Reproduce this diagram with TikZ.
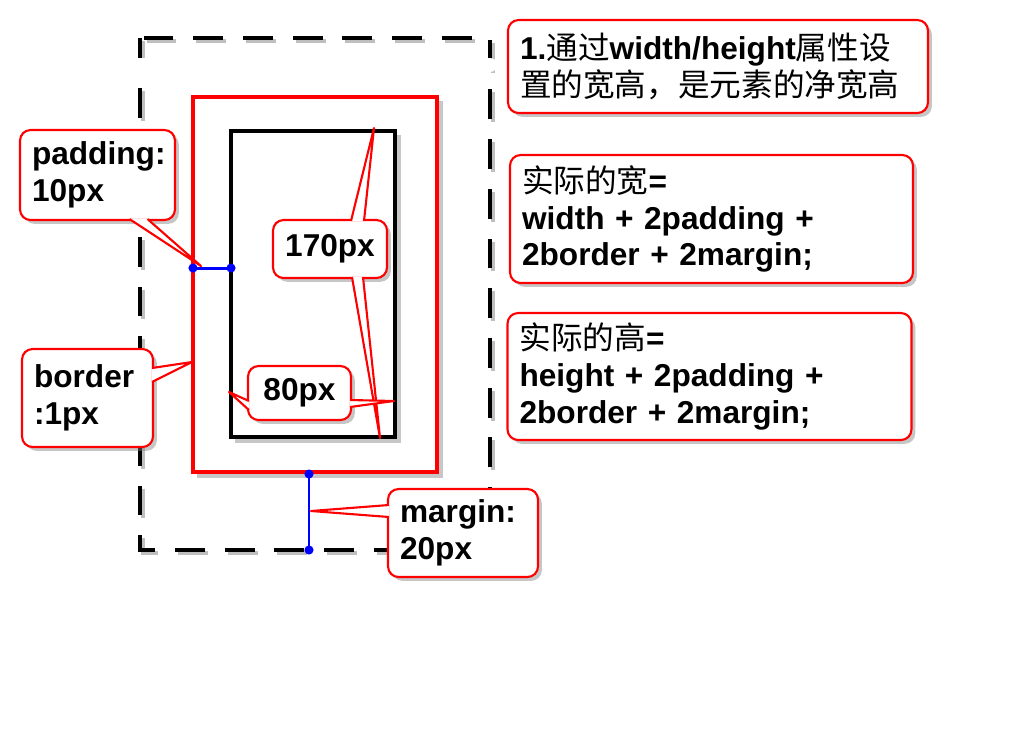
\documentclass[tikz,border=0pt]{standalone}
\usepackage{fontspec}
\setmainfont{Liberation Sans}
\newfontfamily\cjk{Noto Sans CJK SC}
\usetikzlibrary{calc,shadows}
\newcommand\zh[1]{{\cjk\mdseries #1}}

\begin{document}
\begin{tikzpicture}[x=0.02cm, y=-0.02cm,
	every node/.style={font=\fontsize{18}{21}\selectfont\bfseries},
	note/.style={draw=red, fill=white, line width=1.2pt, rounded corners=6pt, align=left, inner xsep=0.24cm, inner ysep=2pt,
		drop shadow={shadow xshift=2.2pt, shadow yshift=-2.2pt, opacity=0.45}},
	tail/.style={draw=red, fill=white, line width=1.2pt, line join=round},
	boxshadow/.style={draw=black!22, line width=2.2pt},
	dashbox/.style={line width=2.4pt, dash pattern=on 17pt off 11.3pt},
	blueline/.style={blue, line width=1.7pt}]
	\useasboundingbox (0,0) rectangle (1024,738);
	% margin box, border box, content box
	\draw[dashbox, black!25, shift={(3,3)}] (140,38) rectangle (490,550);
	\draw[dashbox] (140,38) rectangle (490,550);
	\draw[white, line width=8pt, line cap=round] (133,65) -- (490,65);
	\draw[boxshadow] (441,101) -- (441,476) -- (197,476);
	\draw[red, line width=2pt] (193,97) rectangle (437,472);
	\draw[boxshadow] (399,135) -- (399,441) -- (235,441);
	\draw[line width=2.3pt] (231,131) rectangle (395,437);
	% padding and margin marks
	\coordinate (padL) at (193,268);
	\coordinate (padR) at (231,268);
	\coordinate (marT) at (309,474);
	\coordinate (marB) at (309,550);
	\draw[blueline] (padL) -- (padR);
	\draw[blueline] (marT) -- (marB);
	\fill[blue] (padL) circle (2.6pt) (padR) circle (2.6pt) (marT) circle (2.6pt) (marB) circle (2.6pt);
	% tips of the callouts
	\coordinate (padtip) at (201,266);
	\coordinate (toptip) at (374,128);
	\coordinate (bottip) at (380,438);
	\coordinate (bordtip) at (192,362);
	\coordinate (lefttip) at (229,392);
	\coordinate (righttip) at (394,401);
	\coordinate (martip) at (311,511);
	% callouts
	\node[note, text width=2.62cm, minimum height=1.8cm] (pad) at (97.5,175) {padding:\\10px};
	\draw[tail] ($(pad.south)+(32,-2)$) -- (padtip) -- ($(pad.south)+(50,-2)$);
	\node[note, align=center, text width=1.8cm, minimum height=1.16cm] (s170) at (330,249) {170px};
	\draw[tail] ($(s170.north)+(21,2)$) -- (toptip) -- ($(s170.north)+(34,2)$);
	\draw[tail] ($(s170.south)+(22,-2)$) -- (bottip) -- ($(s170.south)+(33,-2)$);
	\node[note, text width=2.14cm, minimum height=1.96cm] (bord) at (87.5,398) {border\\:1px};
	\draw[tail] ($(bord.east)+(-2,-30)$) -- (bordtip) -- ($(bord.east)+(-2,-16)$);
	\node[note, align=center, text width=1.58cm, minimum height=1.08cm] (s80) at (299.5,393) {80px};
	\draw[tail] ($(s80.west)+(2,8)$) -- (lefttip) -- ($(s80.west)+(2,17)$);
	\draw[tail] ($(s80.east)+(-2,7)$) -- (righttip) -- ($(s80.east)+(-2,14)$);
	\node[note, text width=2.52cm, minimum height=1.76cm] (marg) at (463,533) {margin:\\20px};
	\draw[tail] ($(marg.west)+(2,-28)$) -- (martip) -- ($(marg.west)+(2,-16)$);
	\node[note, text width=7.92cm, minimum height=1.86cm] (net) at (718,66.5) {1.\zh{通过}width/height\zh{属性设}\\\zh{置的宽高，是元素的净宽高}};
	\node[note, text width=7.58cm, minimum height=2.56cm] (wide) at (711.5,219) {\zh{实际的宽}=\\width + 2padding +\\2border + 2margin;};
	\node[note, text width=7.6cm, minimum height=2.54cm] (tall) at (709.5,376.5) {\zh{实际的高}=\\height + 2padding +\\2border + 2margin;};
\end{tikzpicture}
\end{document}
